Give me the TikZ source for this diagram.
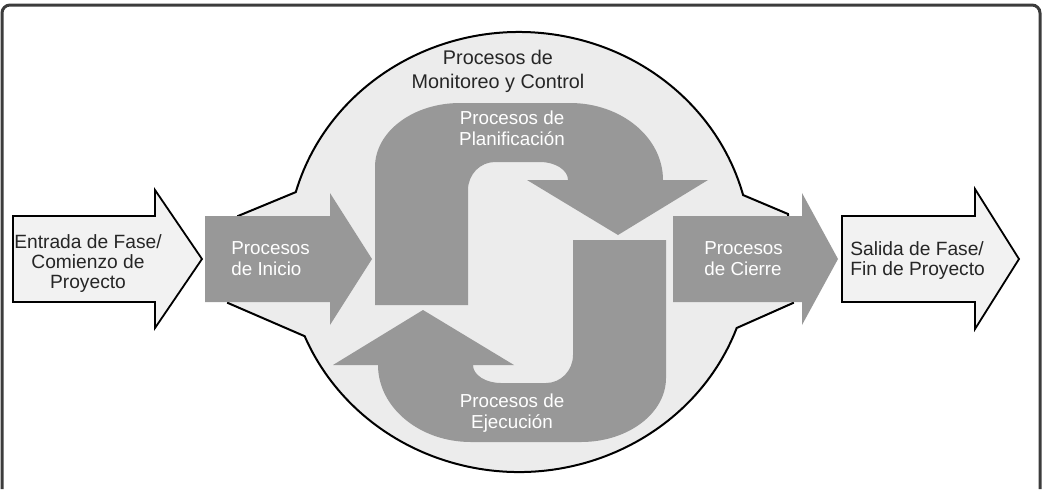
\documentclass[tikz,border=0pt]{standalone}
\usepackage{fontspec}
\setmainfont{Liberation Sans}
\usetikzlibrary{calc}
\definecolor{procgray}{RGB}{152,152,152}
\definecolor{blobgray}{RGB}{236,236,236}
\definecolor{phasegray}{RGB}{242,242,242}
\definecolor{framegray}{RGB}{60,60,60}
\definecolor{textdark}{RGB}{38,38,38}

% block arrow: style, tail x, head back x, tip x, centre y, half shaft, half head
\newcommand{\blockarrow}[7]{%
  \path[#1] (#2,#5-#6) -- (#3,#5-#6) -- (#3,#5-#7) -- (#4,#5) -- (#3,#5+#7) -- (#3,#5+#6) -- (#2,#5+#6) -- cycle;}

% bent arrow of the planning / execution cycle
\newcommand{\cyclearrow}[1]{%
  \path[#1] (375,305) -- (375,167)
    arc[start angle=180, end angle=270, x radius=85, y radius=64] -- (570,103)
    arc[start angle=270, end angle=360, x radius=93, y radius=77]
    -- (708,180) -- (618,235) -- (527,180) -- (568,180)
    arc[start angle=0, end angle=-90, x radius=28, y radius=18] -- (495,162)
    arc[start angle=270, end angle=180, x radius=27, y radius=28]
    -- (468,305) -- cycle;}

\begin{document}
\begin{tikzpicture}[x=0.5pt, y=-0.5pt,
    procfill/.style={fill=procgray},
    phasefill/.style={fill=phasegray, draw=black, line width=0.9pt},
    proctext/.style={text=white, font=\fontsize{9.4}{10.5}\selectfont, inner sep=0pt},
    phasetext/.style={text=textdark, font=\fontsize{9.6}{10}\selectfont, inner sep=0pt}
  ]
  \useasboundingbox (0,0) rectangle (1044,489);

  % Frame
  \draw[framegray, line width=1.5pt, rounded corners=4pt] (2,489) -- (2,5) -- (1040,5) -- (1040,489);

  % Monitoring and control
  \coordinate (blobc) at (519,252);
  \path[fill=blobgray, draw=black, line width=1pt] (238,216)
    -- ($(blobc)+(195.8:232 and 220)$) arc[start angle=195.8, end angle=345, x radius=232, y radius=220]
    -- (788,214) -- (793,303)
    -- ($(blobc)+(20.2:232 and 220)$) arc[start angle=20.2, end angle=157.5, x radius=232, y radius=220]
    -- (228,303) -- cycle;

  % Planning and execution
  \cyclearrow{procfill}
  \cyclearrow{procfill, rotate around={180:(520.5,272.5)}}

  % Initiating and closing
  \blockarrow{procfill}{205}{330}{372}{259}{43}{66}
  \blockarrow{procfill}{673}{802}{838}{259}{43}{66}

  % Phase entry and exit
  \blockarrow{phasefill}{13}{155}{202}{259}{43}{69}
  \blockarrow{phasefill}{842}{975}{1019}{259}{43}{70}

  % Labels
  \node[phasetext, align=center, font=\fontsize{9.9}{12}\selectfont] (monitoreo) at (498,71) {Procesos de\\Monitoreo y Control};
  \node[proctext, align=center] (planificacion) at (512,128) {Procesos de\\Planificación};
  \node[proctext, align=center] (ejecucion) at (512,413) {Procesos de\\Ejecución};
  \node[proctext, align=left, anchor=west] (inicio) at (231,259) {Procesos\\de Inicio};
  \node[proctext, align=left, anchor=west] (cierre) at (704,259) {Procesos\\de Cierre};
  \node[phasetext, align=center] (entrada) at (88,264) {Entrada de Fase/\\Comienzo de\\Proyecto};
  \node[phasetext, align=left, anchor=west] (salida) at (850,261) {Salida de Fase/\\Fin de Proyecto};
\end{tikzpicture}
\end{document}
